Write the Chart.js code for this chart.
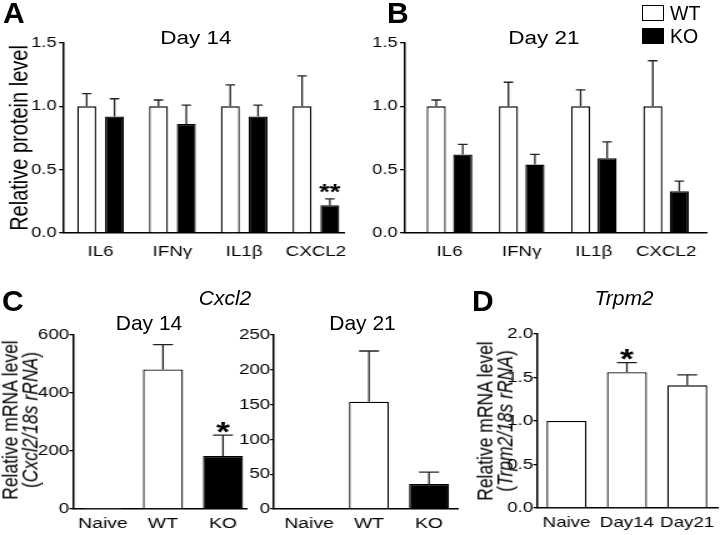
<!DOCTYPE html>
<html>
<head>
<meta charset="utf-8">
<script src="https://cdn.jsdelivr.net/npm/chart.js@4.4.0/dist/chart.umd.min.js"></script>
<style>
  html, body { margin: 0; padding: 0; background: #fff; }
  #page { position: relative; width: 720px; height: 535px; overflow: hidden; font-family: "Liberation Sans", Arial, sans-serif; color: #000; }
  /* the plots in the figure are stretched sideways, the added labels are not */
  #stretch { position: absolute; left: 0; top: 0; width: 576px; height: 535px; transform: scaleX(1.25); transform-origin: 0 0; }
  #stretch canvas { position: absolute; }
  .lbl { position: absolute; white-space: nowrap; line-height: 1; }
  .ct { transform: translateX(-50%); }
  .letter { font-weight: bold; font-size: 30px; }
  .vt { position: absolute; white-space: nowrap; text-align: center; transform: translate(-50%, -50%) rotate(-90deg); }
  .box { position: absolute; width: 22px; height: 16px; box-sizing: border-box; border: 1.5px solid #000; }
</style>
</head>
<body>
<div id="page">
  <div id="stretch">
    <canvas id="chartA"></canvas>
    <canvas id="chartB"></canvas>
    <canvas id="chartC1"></canvas>
    <canvas id="chartC2"></canvas>
    <canvas id="chartD"></canvas>
    <div class="lbl ct" style="left:156.8px; top:29px; font-size:18px">Day 14</div>
    <div class="lbl ct" style="left:435.2px; top:29px; font-size:18px">Day 21</div>
    <div class="vt" style="left:16.4px; top:420px; font-size:17.5px; line-height:16px">Relative mRNA level<br>(<i>Cxcl2/18s rRNA</i>)</div>
    <div class="vt" style="left:396px; top:421px; font-size:17.5px; line-height:16px">Relative mRNA level<br>(<i>Trpm2/18s rRNA</i>)</div>
  </div>

  <div class="lbl letter" style="left:3px; top:-2px">A</div>
  <div class="lbl letter" style="left:387px; top:-2px">B</div>
  <div class="lbl letter" style="left:2px; top:286px">C</div>
  <div class="lbl letter" style="left:472px; top:286px">D</div>

  <div class="box" style="left:642px; top:5px; background:#fff"></div>
  <div class="lbl" style="left:670px; top:3.5px; font-size:19.5px">WT</div>
  <div class="box" style="left:642px; top:28px; background:#000"></div>
  <div class="lbl" style="left:670px; top:26.5px; font-size:19.5px">KO</div>

  <div class="lbl ct" style="left:225px; top:287px; font-size:21px; font-style:italic">Cxcl2</div>
  <div class="lbl ct" style="left:624px; top:287px; font-size:21px; font-style:italic">Trpm2</div>
  <div class="lbl ct" style="left:149px; top:312px; font-size:21px">Day 14</div>
  <div class="lbl ct" style="left:362.5px; top:312px; font-size:21px">Day 21</div>
</div>

<script>
// ---- data (bar heights and tops of the error bars) ----
const proteinCats = ['IL6', 'IFNγ', 'IL1β', 'CXCL2'];
const proteinYTicks = [0, 0.5, 1.0, 1.5];

const d14WT = [1.00, 1.00, 1.00, 1.00];
const d14WTTop = [1.10, 1.05, 1.17, 1.24];
const d14KO = [0.92, 0.86, 0.92, 0.22];
const d14KOTop = [1.06, 1.01, 1.01, 0.27];
const d14KOStars = ['', '', '', '**'];

const d21WT = [1.00, 1.00, 1.00, 1.00];
const d21WTTop = [1.05, 1.19, 1.13, 1.36];
const d21KO = [0.62, 0.54, 0.59, 0.33];
const d21KOTop = [0.70, 0.62, 0.72, 0.41];

const cxclCats = ['Naive', 'WT', 'KO'];
const cxclFill = ['#fff', '#fff', '#000'];
const cxcl14YTicks = [0, 200, 400, 600];
const cxcl14 = [1, 481, 183];
const cxcl14Top = [1, 567, 255];
const cxcl14Stars = ['', '', '*'];
const cxcl21YTicks = [0, 50, 100, 150, 200, 250];
const cxcl21 = [1, 154, 36];
const cxcl21Top = [1, 227, 53];

const trpmCats = ['Naive', 'Day14', 'Day21'];
const trpmYTicks = [0, 0.5, 1.0, 1.5, 2.0];
const trpm = [1.00, 1.56, 1.41];
const trpmTop = [1.00, 1.67, 1.53];
const trpmStars = ['', '*', ''];

// ---- layout ----
const K = 1.25;
Chart.defaults.font.family = '"Liberation Sans", Arial, sans-serif';
Chart.defaults.color = '#000';

// box: canvas [cl, cr, ct, cb] and plot area [l, r, t, b], in page pixels
let place = (id, box) => {
  const c = document.getElementById(id);
  c.width = Math.round((box.cr - box.cl) / K);
  c.height = box.cb - box.ct;
  c.style.left = (box.cl / K) + 'px';
  c.style.top = box.ct + 'px';
  return {
    yw: (box.l - box.cl) / K,
    xh: box.cb - box.b,
    padding: { left: 0, top: box.t - box.ct, right: c.width - (box.r - box.cl) / K, bottom: 0 }
  };
};

const errorBars = {
  id: 'errorBars',
  afterDatasetsDraw(chart, args, opts) {
    const { ctx } = chart;
    const y = chart.scales.y;
    ctx.save();
    chart.data.datasets.forEach((ds, i) => {
      chart.getDatasetMeta(i).data.forEach((bar, j) => {
        const val = ds.data[j].y;
        const yTop = y.getPixelForValue(ds.tops[j]);
        if (ds.tops[j] > val) {
          const half = bar.width / 4;
          ctx.strokeStyle = '#222';
          ctx.lineWidth = 1.3;
          ctx.beginPath();
          ctx.moveTo(bar.x, bar.y);
          ctx.lineTo(bar.x, yTop);
          ctx.moveTo(bar.x - half, yTop);
          ctx.lineTo(bar.x + half, yTop);
          ctx.stroke();
        }
        const star = ds.stars && ds.stars[j];
        if (star) {
          ctx.fillStyle = '#000';
          ctx.font = 'bold ' + opts.size + 'px "Liberation Sans", Arial, sans-serif';
          ctx.textAlign = 'center';
          ctx.textBaseline = 'alphabetic';
          ctx.fillText(star, bar.x, yTop - opts.gap + 0.27 * opts.size);
        }
      });
    });
    ctx.restore();
  }
};

let pts = vals => vals.map((y, i) => ({ x: i, y: y }));

let makeChart = (id, box, cats, yTicks, datasets, s) => {
  const lay = place(id, box);
  return new Chart(document.getElementById(id), {
    type: 'bar',
    data: { datasets: datasets },
    plugins: [errorBars],
    options: {
      responsive: false,
      animation: false,
      devicePixelRatio: 1,
      layout: { padding: lay.padding },
      datasets: { bar: { categoryPercentage: s.catPct, barPercentage: s.barPct, borderColor: '#000', borderWidth: 1.3 } },
      plugins: {
        legend: { display: false },
        tooltip: { enabled: false },
        errorBars: { size: s.starSize, gap: s.starGap }
      },
      scales: {
        x: {
          type: 'linear',
          bounds: 'data',
          offset: false,
          min: s.xMin,
          max: s.xMax,
          grid: { display: false, drawTicks: false, offset: false },
          border: { color: '#000', width: 1.5 },
          afterBuildTicks: sc => { sc.ticks = cats.map((c, i) => ({ value: i })); },
          afterFit: sc => { sc.height = lay.xh; },
          ticks: { autoSkip: false, maxRotation: 0, padding: s.xPad, font: { size: s.xFont }, callback: v => cats[v] }
        },
        y: {
          min: yTicks[0],
          max: yTicks[yTicks.length - 1],
          ticks: { stepSize: yTicks[1] - yTicks[0], padding: s.yPad, font: { size: s.yFont }, callback: s.fmt },
          grid: { drawOnChartArea: false, drawTicks: true, tickLength: s.tick, color: '#000', lineWidth: 1.3 },
          border: { color: '#000', width: 1.5 },
          afterFit: sc => { sc.width = lay.yw; },
          title: s.yTitle || { display: false }
        }
      }
    }
  });
};

const oneDecimal = v => v.toFixed(1);
const plain = v => String(v);
const openBar = { backgroundColor: '#fff' };
const solidBar = { backgroundColor: '#000' };

makeChart('chartA', { cl: 0, cr: 360, ct: 0, cb: 265, l: 64, r: 347, t: 43, b: 233 }, proteinCats, proteinYTicks, [
  { label: 'WT', data: pts(d14WT), tops: d14WTTop, ...openBar },
  { label: 'KO', data: pts(d14KO), tops: d14KOTop, stars: d14KOStars, ...solidBar }
], {
  xMin: -0.51, xMax: 3.40, catPct: 0.774, barPct: 0.68, xPad: 10, xFont: 15, yFont: 14.5, yPad: 2, tick: 4,
  fmt: oneDecimal, starSize: 22, starGap: 6,
  yTitle: { display: true, text: 'Relative protein level', font: { size: 20 }, padding: { top: 4, bottom: 0 } }
});

makeChart('chartB', { cl: 370, cr: 720, ct: 0, cb: 265, l: 405, r: 707, t: 43, b: 233 }, proteinCats, proteinYTicks, [
  { label: 'WT', data: pts(d21WT), tops: d21WTTop, ...openBar },
  { label: 'KO', data: pts(d21KO), tops: d21KOTop, ...solidBar }
], {
  xMin: -0.616, xMax: 3.567, catPct: 0.734, barPct: 0.72, xPad: 10, xFont: 15, yFont: 14.5, yPad: 2, tick: 4,
  fmt: oneDecimal, starSize: 22, starGap: 6
});

makeChart('chartC1', { cl: 0, cr: 255, ct: 265, cb: 535, l: 73, r: 247, t: 335, b: 509 }, cxclCats, cxcl14YTicks, [
  { label: 'Day 14', data: pts(cxcl14), tops: cxcl14Top, stars: cxcl14Stars, backgroundColor: cxclFill }
], {
  xMin: -0.5, xMax: 2.4, catPct: 1, barPct: 0.667, xPad: 5, xFont: 15.5, yFont: 15, yPad: 0, tick: 3,
  fmt: plain, starSize: 28, starGap: 2
});

makeChart('chartC2', { cl: 235, cr: 465, ct: 265, cb: 535, l: 274, r: 458, t: 335, b: 509 }, cxclCats, cxcl21YTicks, [
  { label: 'Day 21', data: pts(cxcl21), tops: cxcl21Top, backgroundColor: cxclFill }
], {
  xMin: -0.583, xMax: 2.483, catPct: 1, barPct: 0.667, xPad: 5, xFont: 15.5, yFont: 15, yPad: 0, tick: 3,
  fmt: plain, starSize: 28, starGap: 2
});

makeChart('chartD', { cl: 500, cr: 725, ct: 265, cb: 535, l: 537, r: 718, t: 334, b: 508 }, trpmCats, trpmYTicks, [
  { label: 'Trpm2', data: pts(trpm), tops: trpmTop, stars: trpmStars, ...openBar }
], {
  xMin: -0.49, xMax: 2.51, catPct: 1, barPct: 0.664, xPad: 6, xFont: 15, yFont: 15, yPad: 0, tick: 3,
  fmt: oneDecimal, starSize: 28, starGap: 2
});
</script>
</body>
</html>
